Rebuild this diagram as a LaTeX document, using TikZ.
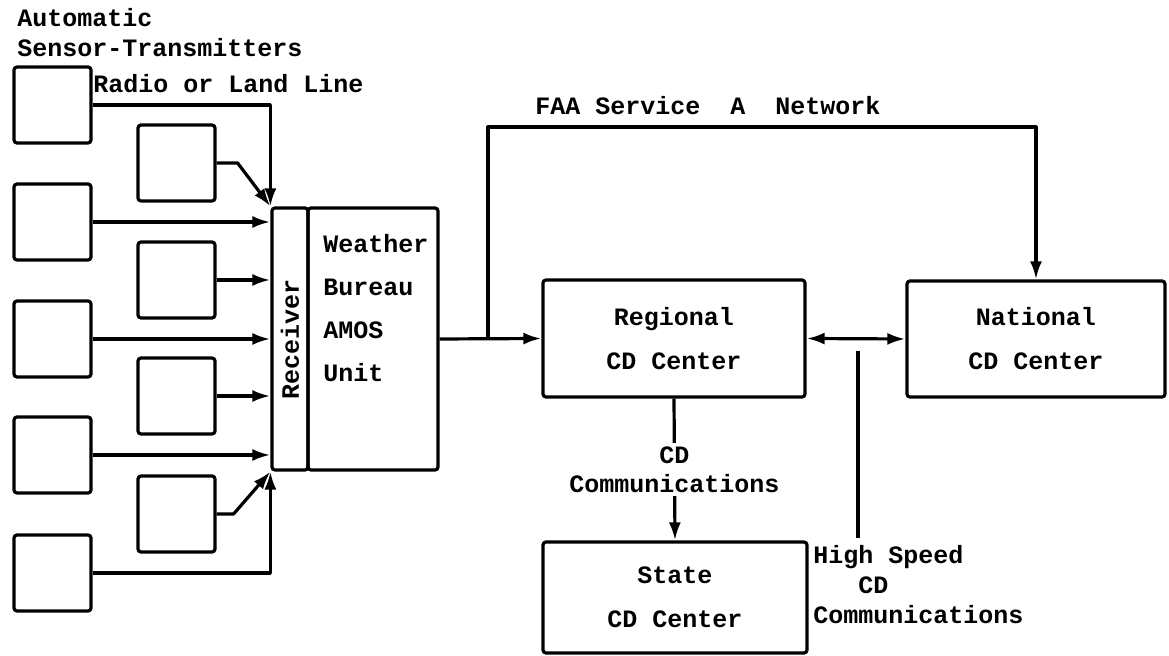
\documentclass[tikz,border=0pt]{standalone}
\usepackage{fontspec}
\setmainfont{Liberation Mono}
\usetikzlibrary{positioning, arrows.meta}

\begin{document}
\begin{tikzpicture}[x=0.5pt, y=-0.5pt,
    every node/.style={font=\fontsize{12.5}{15}\selectfont\bfseries},
    >={Latex[length=9pt, width=6pt]},
    box/.style={draw, line width=1.6pt, rounded corners=1.5pt, inner sep=0pt},
    sensor/.style={box, minimum width=38.5pt, minimum height=38pt},
    cdcenter/.style={box, align=center, font=\fontsize{12.5}{22}\selectfont\bfseries},
    wire/.style={line width=1.6pt, line join=round},
    txt/.style={inner sep=0pt}]
    \useasboundingbox (0,0) rectangle (1169,656);

    % Headings
    \node[txt, anchor=base west] (auto) at (17,27) {Automatic};
    \node[txt, anchor=base west] (senstx) at (17,57) {Sensor-Transmitters};
    \node[txt, anchor=base west] (radio) at (93,93) {Radio or Land Line};

    % Sensor-transmitter boxes
    \foreach \n/\y in {1/105, 2/222, 3/339, 4/455, 5/573}
        \node[sensor] (so\n) at (52.5,\y) {};
    \foreach \n/\y in {1/163, 2/280, 3/396, 4/514}
        \node[sensor] (si\n) at (176.5,\y) {};

    % Receiver and AMOS unit
    \node[box, minimum width=18pt, minimum height=131pt] (rcv) at (290,339) {};
    \node[box, minimum width=65pt, minimum height=131pt, right=-1.6pt of rcv] (wb) {};
    \node[txt, rotate=90] (rcvtext) at (rcv.center) {Receiver};
    \node[txt, anchor=north west, align=left, font=\fontsize{12.5}{21.5}\selectfont\bfseries]
        (wbtext) at (323,234) {Weather\\Bureau\\AMOS\\Unit};

    % Centers
    \node[cdcenter, minimum width=131pt, minimum height=58.5pt] (reg) at (674,338.5) {Regional\\CD Center};
    \node[cdcenter, minimum width=129pt, minimum height=58pt] (nat) at (1036,339) {National\\CD Center};
    \node[cdcenter, minimum width=132pt, minimum height=55.5pt] (st) at (675,597.5) {State\\CD Center};

    % Sensor links
    \draw[wire, ->] (so1.east) -| (rcv.north west);
    \draw[wire, ->] (si1.east) -- ++(21,0) -- (rcv.north west);
    \foreach \s in {so2, si2, so3, si3, so4}
        \draw[wire, ->] (\s.east) -- (\s.east -| rcv.west);
    \draw[wire, ->] (si4.east) -- ++(17,0) -- (rcv.south west);
    \draw[wire, ->] (so5.east) -| (rcv.south west);

    % Output and FAA network
    \coordinate (tap) at (488,339);
    \coordinate (nettop) at (488,127);
    \draw[wire, ->] (wb.east) -- (reg.west);
    \draw[wire, ->] (tap) -- (nettop) -| (nat.north);
    \node[txt, anchor=base] (faa) at (708,115) {FAA Service~~A~~Network};

    % CD communications
    \draw[wire, <->] (reg.east) -- (nat.west);
    \draw[wire, ->] (reg.south) -- node[fill=white, inner sep=2pt, align=center,
        font=\fontsize{12.5}{14.5}\selectfont\bfseries] (cdcom) {CD\\Communications} (st.north);
    \coordinate (hstop) at (858,351);
    \coordinate (hsend) at (858,538);
    \draw[wire] (hstop) -- (hsend);
    \node[txt, anchor=north west, align=left] (hstext) at (813,545) {High Speed\\~~~CD\\Communications};
\end{tikzpicture}
\end{document}
